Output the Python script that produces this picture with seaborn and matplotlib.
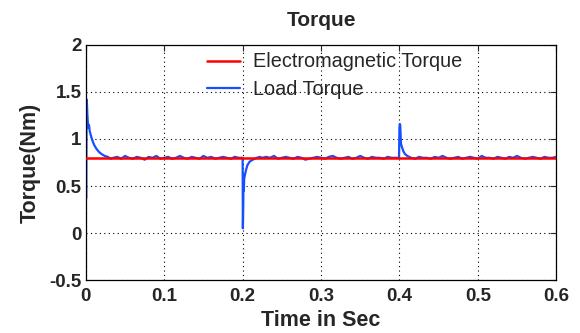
import numpy as np
import pandas as pd
import matplotlib
matplotlib.use("Agg")
import matplotlib.pyplot as plt
import seaborn as sns

# ---------- datos ----------
# par electromagnetico (constante)
t_em = [0.0, 0.6]
em_torque = [0.8, 0.8]

# par de carga: arranque
t_arranque = [0.0006, 0.0009, 0.0013, 0.002, 0.003, 0.004, 0.005, 0.007, 0.009,
              0.011, 0.014, 0.017, 0.020, 0.024, 0.028, 0.032]
y_arranque = [0.37, 1.42, 1.40, 1.25, 1.12, 1.15, 1.08, 1.02, 0.97,
              0.93, 0.89, 0.86, 0.84, 0.82, 0.81, 0.79]

# regimen 0.035 - 0.195
t_reg1 = np.round(np.arange(0.035, 0.1951, 0.005), 4)
y_reg1 = [0.80, 0.81, 0.79, 0.82, 0.80, 0.79, 0.81, 0.80, 0.78, 0.81, 0.80,
          0.82, 0.79, 0.80, 0.81, 0.79, 0.80, 0.82, 0.80, 0.79, 0.81, 0.80,
          0.79, 0.82, 0.80, 0.81, 0.79, 0.80, 0.81, 0.80, 0.79, 0.81, 0.80]

# caida en 0.2 s
t_caida = [0.1995, 0.2, 0.2003, 0.2008, 0.201, 0.2015, 0.202, 0.204, 0.206,
           0.209, 0.213, 0.218, 0.222]
y_caida = [0.80, 0.80, 0.05, 0.30, 0.52, 0.45, 0.58, 0.66, 0.72,
           0.76, 0.78, 0.80, 0.81]

# regimen 0.225 - 0.395
t_reg2 = np.round(np.arange(0.225, 0.3951, 0.005), 4)
y_reg2 = [0.80, 0.81, 0.80, 0.82, 0.79, 0.80, 0.81, 0.80, 0.79, 0.81, 0.80,
          0.78, 0.79, 0.80, 0.81, 0.80, 0.79, 0.81, 0.82, 0.80, 0.79, 0.80,
          0.81, 0.79, 0.80, 0.82, 0.80, 0.79, 0.81, 0.80, 0.80, 0.79, 0.81,
          0.80, 0.80]

# pico en 0.4 s
t_pico = [0.3995, 0.4, 0.4005, 0.401, 0.402, 0.403, 0.405, 0.407, 0.410]
y_pico = [0.80, 1.12, 1.16, 1.15, 0.95, 0.92, 0.87, 0.84, 0.82]

# regimen 0.415 - 0.6
t_reg3 = np.round(np.arange(0.415, 0.6001, 0.005), 4)
y_reg3 = [0.80, 0.79, 0.81, 0.80, 0.80, 0.79, 0.81, 0.80, 0.82, 0.80, 0.79,
          0.80, 0.81, 0.79, 0.80, 0.81, 0.80, 0.79, 0.82, 0.80, 0.80, 0.79,
          0.81, 0.80, 0.79, 0.81, 0.80, 0.82, 0.80, 0.79, 0.80, 0.81, 0.80,
          0.79, 0.81, 0.80, 0.80, 0.81]

carga = pd.DataFrame({
    "t": np.concatenate([t_arranque, t_reg1, t_caida, t_reg2, t_pico, t_reg3]),
    "torque": np.concatenate([y_arranque, y_reg1, y_caida, y_reg2, y_pico, y_reg3]),
})
em = pd.DataFrame({"t": t_em, "torque": em_torque})

# ---------- estilo ----------
sns.set_style("white")
plt.rcParams["font.family"] = ["Liberation Sans", "DejaVu Sans"]

fig = plt.figure(figsize=(5.8, 3.33), dpi=100)
ax = fig.add_axes([0.148, 0.159, 0.811, 0.706])

sns.lineplot(data=carga, x="t", y="torque", ax=ax, color="#1450ff",
             linewidth=1.6, estimator=None, sort=False, label="Load Torque", zorder=2)
sns.lineplot(data=em, x="t", y="torque", ax=ax, color="#ff0000",
             linewidth=1.8, estimator=None, sort=False,
             label="Electromagnetic Torque", zorder=3)

ax.set_xlim(0, 0.6)
ax.set_ylim(-0.5, 2)
ax.set_xticks([0, 0.1, 0.2, 0.3, 0.4, 0.5, 0.6])
ax.set_xticklabels(["0", "0.1", "0.2", "0.3", "0.4", "0.5", "0.6"])
ax.set_yticks([-0.5, 0, 0.5, 1, 1.5, 2])
ax.set_yticklabels(["-0.5", "0", "0.5", "1", "1.5", "2"])
ax.grid(True, color="black", linestyle=(0, (1, 3)), linewidth=0.8)
ax.tick_params(direction="in", top=True, right=True, length=4, labelsize=13.5)
ax.tick_params(axis="x", pad=6)
ax.tick_params(axis="y", pad=3)
for lab in ax.get_xticklabels() + ax.get_yticklabels():
    lab.set_fontweight("bold")
for s in ax.spines.values():
    s.set_color("black")
    s.set_linewidth(0.9)

ax.set_title("Torque", fontsize=15, fontweight="bold", pad=14)
ax.set_xlabel("Time in Sec", fontsize=15.5, fontweight="bold", labelpad=3)
ax.set_ylabel("Torque(Nm)", fontsize=15.5, fontweight="bold", labelpad=6)

h, l = ax.get_legend_handles_labels()
ax.legend(h[::-1], l[::-1], loc="upper left", bbox_to_anchor=(0.257, 0.968),
          frameon=False, fontsize=14.3, handlelength=1.66, handletextpad=0.65,
          borderpad=0, borderaxespad=0, labelspacing=0.45)

fig.savefig("out.png", dpi=100)
